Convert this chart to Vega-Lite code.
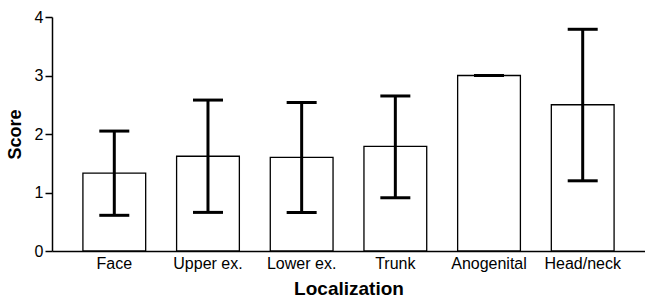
{
  "$schema": "https://vega.github.io/schema/vega-lite/v6.json",
  "width": 593,
  "height": 234,
  "autosize": "none",
  "padding": {"left": 52, "top": 17, "right": 0, "bottom": 50},
  "background": "white",
  "config": {
    "view": {"stroke": null},
    "font": "Liberation Sans",
    "axis": {"labelColor": "black", "titleColor": "black", "domainColor": "black", "tickColor": "black", "grid": false}
  },
  "data": {
    "values": [
      {"loc": "Face", "score": 1.33, "low": 0.61, "high": 2.05},
      {"loc": "Upper ex.", "score": 1.62, "low": 0.66, "high": 2.58},
      {"loc": "Lower ex.", "score": 1.6, "low": 0.66, "high": 2.54},
      {"loc": "Trunk", "score": 1.79, "low": 0.91, "high": 2.65},
      {"loc": "Anogenital", "score": 3.0, "low": 3.0, "high": 3.0},
      {"loc": "Head/neck", "score": 2.5, "low": 1.2, "high": 3.79}
    ]
  },
  "encoding": {
    "x": {
      "field": "loc", "type": "nominal", "sort": null,
      "scale": {"paddingInner": 0.33, "paddingOuter": 0.33},
      "axis": {
        "title": "Localization", "labelAngle": 0, "ticks": false,
        "labelFontSize": 16, "labelPadding": 4, "domainWidth": 1.5,
        "titleFontSize": 19, "titleFontWeight": "bold", "titlePadding": 8
      }
    }
  },
  "layer": [
    {
      "mark": {"type": "bar", "fill": "white", "stroke": "black", "strokeWidth": 1.3},
      "encoding": {
        "y": {
          "field": "score", "type": "quantitative",
          "scale": {"domain": [0, 4], "nice": false},
          "axis": {
            "title": "Score", "values": [0, 1, 2, 3, 4], "format": "d", "tickSize": 7, "tickWidth": 1.5,
            "domainWidth": 1.5, "labelFontSize": 16, "labelPadding": 2,
            "titleFontSize": 18, "titleFontWeight": "bold", "titlePadding": 10
          }
        }
      }
    },
    {
      "mark": {"type": "rule", "stroke": "black", "strokeWidth": 3},
      "encoding": {
        "y": {"field": "low", "type": "quantitative"},
        "y2": {"field": "high"}
      }
    },
    {
      "mark": {"type": "tick", "color": "black", "size": 30, "thickness": 3, "opacity": 1},
      "encoding": {"y": {"field": "low", "type": "quantitative"}}
    },
    {
      "mark": {"type": "tick", "color": "black", "size": 30, "thickness": 3, "opacity": 1},
      "encoding": {"y": {"field": "high", "type": "quantitative"}}
    }
  ]
}
